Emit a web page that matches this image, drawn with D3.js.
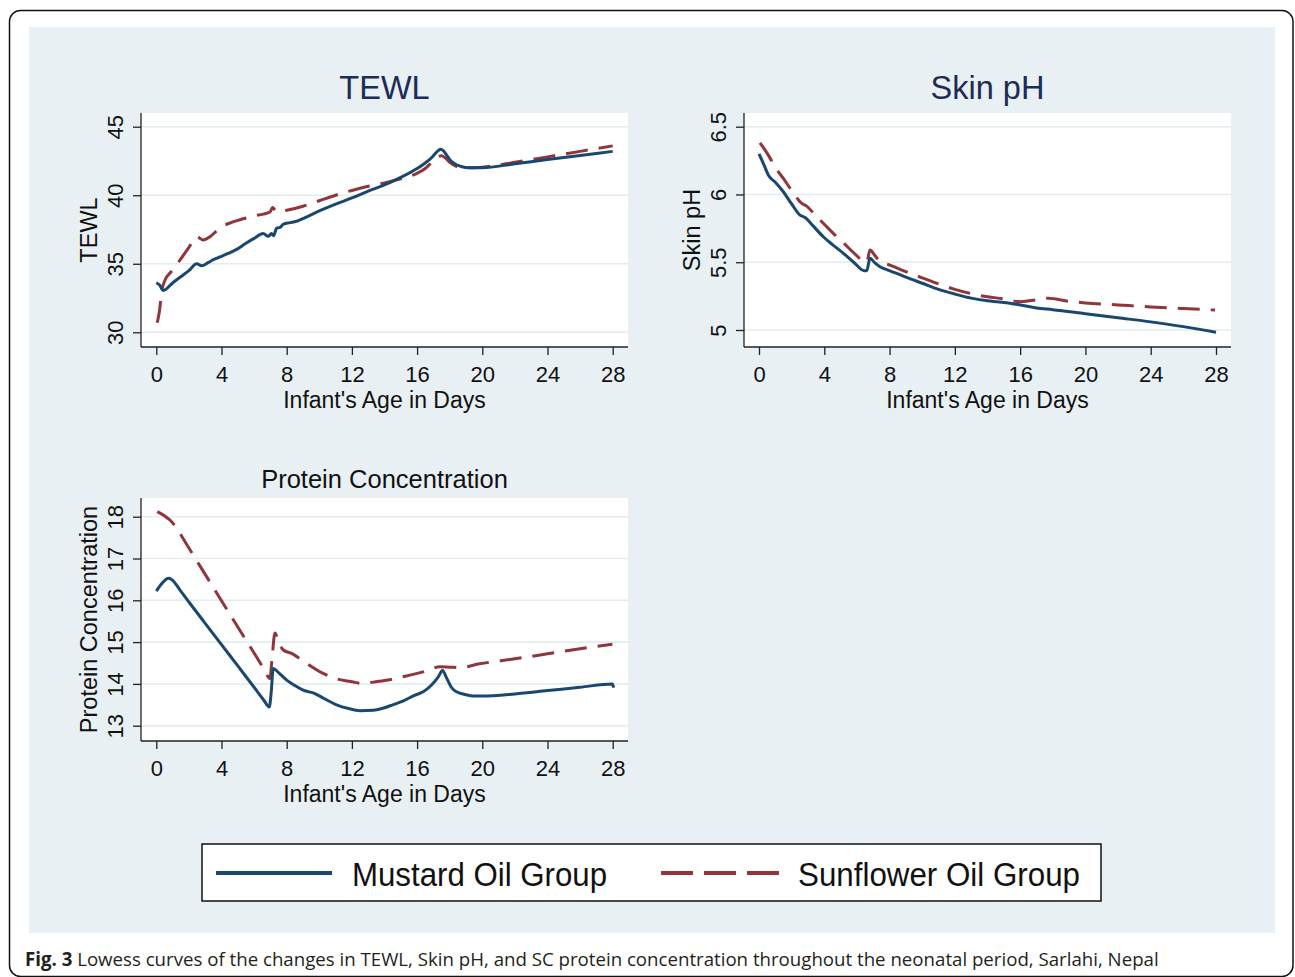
<!DOCTYPE html>
<html><head><meta charset="utf-8">
<script src="https://cdn.jsdelivr.net/npm/d3@7"></script>
<style>
body{margin:0;background:#fff}
svg{display:block}
text{font-family:"Liberation Sans",Arial,Helvetica,sans-serif}
</style>
</head><body>
<svg id="chart" width="1295" height="977"></svg>
<script>
// ---------------- DATA ----------------
const xTicks = [0, 4, 8, 12, 16, 20, 24, 28];
const tewlTicks = [30, 35, 40, 45];
const phTicks = [5, 5.5, 6, 6.5];
const proteinTicks = [13, 14, 15, 16, 17, 18];
const seriesNames = ["Mustard Oil Group", "Sunflower Oil Group"];

// [day, value]
const tewlMustard = [[0,33.6],[0.2,33.45],[0.43,33.05],[1.0,33.6],[1.5,34.05],[2.0,34.5],[2.48,35.0],[2.78,34.85],[3.2,35.1],[3.5,35.3],[3.9,35.5],[4.4,35.75],[4.93,36.05],[5.5,36.5],[6.0,36.85],[6.56,37.2],[6.87,37.0],[7.07,37.2],[7.2,37.05],[7.38,37.6],[7.6,37.65],[7.8,37.9],[8.2,38.0],[8.6,38.1],[9,38.3],[10,38.85],[11,39.35],[12,39.8],[13,40.3],[14,40.75],[15,41.3],[16,41.95],[16.5,42.35],[16.9,42.75],[17.2,43.15],[17.44,43.35],[17.6,43.25],[17.8,42.95],[18.0,42.6],[18.3,42.3],[18.7,42.1],[19.2,42.0],[20,42.0],[22,42.3],[24,42.6],[26,42.9],[28,43.2]];
const tewlSunflower = [[0.06,30.7],[0.2,31.6],[0.33,32.96],[0.53,33.8],[0.9,34.4],[1.45,35.27],[2.0,36.2],[2.48,36.97],[2.88,36.73],[3.29,36.97],[3.7,37.4],[4.11,37.75],[4.7,38.05],[5.33,38.28],[6.0,38.5],[6.56,38.62],[6.97,38.77],[7.14,39.1],[7.3,38.9],[7.48,38.79],[8.0,38.9],[9.0,39.2],[10,39.6],[11,40.0],[12,40.35],[13,40.65],[14,40.9],[15,41.2],[16,41.6],[16.5,41.95],[16.9,42.4],[17.2,42.75],[17.5,42.88],[17.7,42.75],[18.0,42.4],[18.4,42.12],[19.2,42.0],[20,42.05],[22,42.4],[24,42.8],[26,43.2],[28,43.6]];

const phMustard = [[0,6.30],[0.31,6.217],[0.57,6.143],[1.0,6.09],[1.49,6.02],[2.0,5.93],[2.51,5.848],[2.82,5.83],[3.3,5.77],[3.94,5.688],[4.5,5.63],[5.17,5.566],[5.8,5.5],[6.45,5.437],[6.6,5.437],[6.8,5.529],[7.1,5.495],[7.41,5.467],[8.03,5.437],[9,5.39],[10,5.345],[11,5.3],[12,5.265],[13,5.235],[14,5.215],[14.6,5.208],[15,5.203],[16,5.185],[17,5.163],[18,5.15],[20,5.12],[22,5.09],[24,5.06],[26,5.025],[28,4.983]];
const phSunflower = [[0.06,6.381],[0.3,6.34],[0.57,6.29],[1.0,6.2],[1.49,6.118],[2.0,6.03],[2.62,5.934],[2.92,5.914],[3.5,5.84],[4.0,5.78],[4.55,5.713],[5.2,5.64],[5.8,5.57],[6.39,5.509],[6.6,5.499],[6.8,5.59],[7.1,5.55],[7.41,5.504],[8.03,5.479],[9,5.43],[10,5.385],[11,5.34],[12,5.3],[12.93,5.27],[14,5.245],[15,5.23],[16,5.209],[16.8,5.22],[17.73,5.234],[18.85,5.214],[20,5.2],[22,5.185],[24,5.17],[26,5.158],[27.94,5.147]];

const proteinMustard = [[0,16.22],[0.43,16.44],[0.74,16.53],[0.94,16.5],[1.5,16.22],[2,15.96],[3,15.45],[4,14.94],[5,14.43],[6,13.92],[6.6,13.61],[6.93,13.45],[7.05,13.8],[7.17,14.37],[7.5,14.27],[8.0,14.09],[8.5,13.96],[9.01,13.85],[9.73,13.77],[10.3,13.65],[11.06,13.5],[11.8,13.41],[12.49,13.36],[13.3,13.37],[14,13.43],[14.5,13.5],[15.2,13.6],[15.8,13.72],[16.37,13.81],[16.9,13.98],[17.3,14.17],[17.56,14.32],[17.8,14.15],[18.1,13.92],[18.42,13.81],[19.0,13.74],[19.44,13.71],[20,13.71],[22,13.76],[24,13.84],[26,13.92],[27.98,14.0],[28.06,13.91]];
const proteinSunflower = [[0.06,18.12],[0.5,18.02],[0.84,17.92],[1.15,17.78],[1.45,17.6],[2,17.25],[3,16.62],[4,15.99],[5,15.36],[6,14.74],[6.6,14.36],[6.97,14.13],[7.1,14.6],[7.28,15.22],[7.5,15.0],[7.79,14.81],[8.3,14.73],[9,14.55],[10.24,14.25],[11,14.13],[12,14.05],[12.7,14.01],[13.1,14.03],[14,14.08],[15.35,14.19],[16.5,14.3],[17.4,14.41],[18.0,14.4],[18.6,14.39],[19.83,14.48],[22,14.6],[24,14.72],[26,14.84],[27.98,14.95]];

// ---------------- STYLE / LAYOUT ----------------
const navy = "#1a476f", maroon = "#90353b";
const bg = "#e8f0f3", gridCol = "#e3ecef";
const svg = d3.select("#chart");

// outer frame and background panel
svg.append("rect").attr("x",9.5).attr("y",10.5).attr("width",1283.5).attr("height",966)
  .attr("rx",11).attr("fill","#fff").attr("stroke","#111").attr("stroke-width",1.5);
svg.append("rect").attr("x",29).attr("y",27).attr("width",1246).attr("height",906).attr("fill",bg);

const panels = [
  {title:"TEWL", tSize:32.5, tColor:"#1c2b57", tY:99, yTitle:"TEWL",
   box:[141,628,113,347], xr:[156.3,612.7], yd:[30,45], yr:[332.3,126.7],
   ticks:tewlTicks, series:[tewlMustard, tewlSunflower]},
  {title:"Skin pH", tSize:32.5, tColor:"#1c2b57", tY:99, yTitle:"Skin pH",
   box:[744,1231,113,347], xr:[759,1216], yd:[5,6.5], yr:[330,126.7],
   ticks:phTicks, series:[phMustard, phSunflower]},
  {title:"Protein Concentration", tSize:25.5, tColor:"#111", tY:488, yTitle:"Protein Concentration",
   box:[141,628,498,741], xr:[156.3,612.7], yd:[13,18], yr:[725.7,516.7],
   ticks:proteinTicks, series:[proteinMustard, proteinSunflower]}
];

panels.forEach(p => {
  const [L,R,T,B] = p.box;
  const x = d3.scaleLinear().domain([0,28]).range(p.xr);
  const y = d3.scaleLinear().domain(p.yd).range(p.yr);
  const g = svg.append("g");
  g.append("rect").attr("x",L).attr("y",T).attr("width",R-L).attr("height",B-T).attr("fill","#fff");
  // grid
  g.selectAll(".grid").data(p.ticks).enter().append("line")
    .attr("x1",L).attr("x2",R).attr("y1",d=>y(d)).attr("y2",d=>y(d))
    .attr("stroke",gridCol).attr("stroke-width",1.6);
  // lines
  const line = d3.line().x(d=>x(d[0])).y(d=>y(d[1])).curve(d3.curveMonotoneX);
  g.append("path").datum(p.series[1]).attr("d",line).attr("fill","none")
    .attr("stroke",maroon).attr("stroke-width",3).attr("stroke-dasharray","22,11");
  g.append("path").datum(p.series[0]).attr("d",line).attr("fill","none")
    .attr("stroke",navy).attr("stroke-width",3).attr("stroke-linejoin","round");
  // x axis
  const xa = d3.axisBottom(x).tickValues(xTicks).tickSize(8).tickPadding(6).tickFormat(d3.format("d"));
  const xg = g.append("g").attr("transform",`translate(0,${B})`).call(xa);
  xg.select(".domain").remove();
  xg.append("line").attr("x1",L).attr("x2",R).attr("stroke","#222").attr("stroke-width",1.3);
  xg.selectAll(".tick line").attr("stroke","#222").attr("stroke-width",1.3);
  xg.selectAll(".tick text").attr("font-size",22).attr("fill","#111")
    .attr("font-family",'"Liberation Sans",Arial,sans-serif').attr("dy",null).attr("y",35);
  // y axis
  const ya = d3.axisLeft(y).tickValues(p.ticks).tickSize(8).tickFormat(d=>String(d));
  const yg = g.append("g").attr("transform",`translate(${L},0)`).call(ya);
  yg.select(".domain").remove();
  yg.append("line").attr("y1",T).attr("y2",B).attr("stroke","#222").attr("stroke-width",1.3);
  yg.selectAll(".tick line").attr("stroke","#222").attr("stroke-width",1.3);
  yg.selectAll(".tick text").attr("font-size",22).attr("fill","#111")
    .attr("font-family",'"Liberation Sans",Arial,sans-serif')
    .attr("x",null).attr("dy",null).attr("text-anchor","middle")
    .attr("transform","translate(-18.5,0) rotate(-90)");
  // titles
  g.append("text").attr("x",(L+R)/2).attr("y",p.tY).attr("text-anchor","middle")
    .attr("font-size",p.tSize).attr("fill",p.tColor).text(p.title);
  g.append("text").attr("x",(L+R)/2).attr("y",B+61).attr("text-anchor","middle")
    .attr("font-size",23).attr("fill","#111").text("Infant's Age in Days");
  g.append("text").attr("transform",`translate(${L-44.5},${(T+B)/2}) rotate(-90)`)
    .attr("text-anchor","middle").attr("font-size",23.5).attr("fill","#111").text(p.yTitle);
});

// legend
const lg = svg.append("g");
lg.append("rect").attr("x",202).attr("y",844).attr("width",899).attr("height",57)
  .attr("fill","#fff").attr("stroke","#111").attr("stroke-width",1.5);
lg.append("line").attr("x1",216).attr("x2",332).attr("y1",873).attr("y2",873)
  .attr("stroke",navy).attr("stroke-width",4);
lg.append("line").attr("x1",661).attr("x2",779).attr("y1",873).attr("y2",873)
  .attr("stroke",maroon).attr("stroke-width",4).attr("stroke-dasharray","32,11");
lg.append("text").attr("x",352).attr("y",886).attr("font-size",33).attr("fill","#111")
  .attr("textLength",255).attr("lengthAdjust","spacingAndGlyphs").text(seriesNames[0]);
lg.append("text").attr("x",798).attr("y",886).attr("font-size",33).attr("fill","#111")
  .attr("textLength",282).attr("lengthAdjust","spacingAndGlyphs").text(seriesNames[1]);

// caption
const cap = svg.append("text").attr("x",25).attr("y",966).attr("font-size",18)
  .attr("fill","#231f20").style("font-family",'"Open Sans","Noto Sans",sans-serif');
cap.append("tspan").attr("font-weight","bold").text("Fig. 3");
cap.append("tspan").text(" Lowess curves of the changes in TEWL, Skin pH, and SC protein concentration throughout the neonatal period, Sarlahi, Nepal");
const w = cap.node().getComputedTextLength();
cap.attr("font-size", 18 * 1135 / w);
</script>
</body></html>
